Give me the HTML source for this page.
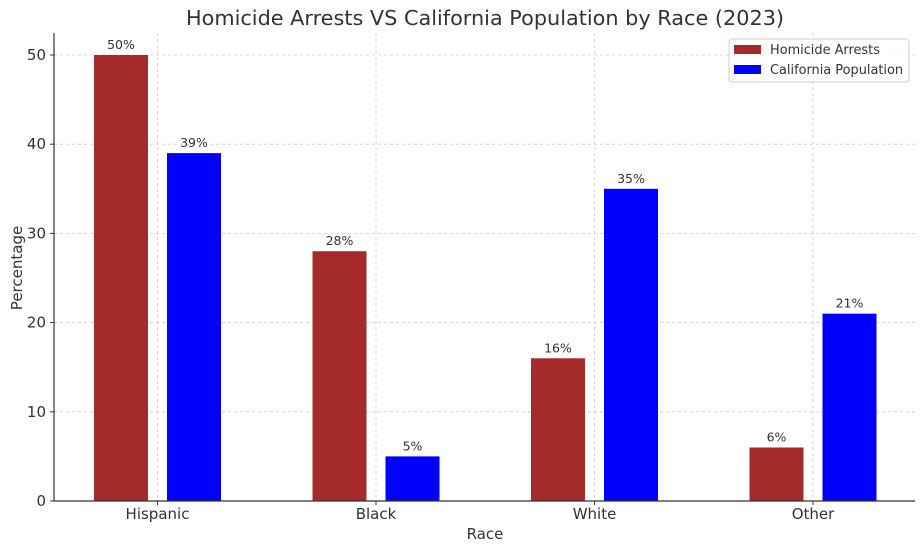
<!DOCTYPE html>
<html><head><meta charset="utf-8"><style>
body{margin:0;background:#fff;}
svg text{font-family:"DejaVu Sans","Liberation Sans",sans-serif;}
</style></head><body>
<svg id="chart" width="924" height="551" xmlns="http://www.w3.org/2000/svg">
<text x="485" y="25" font-size="20.8" fill="#333" text-anchor="middle">Homicide Arrests VS California Population by Race (2023)</text>
<g id="grid"></g><g id="bars"></g><g id="axes"></g>
<g>
<rect x="729" y="39" width="180" height="43" rx="3" fill="#fff" fill-opacity="0.8" stroke="#ccc"/>
<rect x="734" y="45" width="27" height="9" fill="#a52a2a"/>
<text x="770" y="54" font-size="12.9" fill="#333">Homicide Arrests</text>
<rect x="734" y="65" width="27" height="9" fill="#0000ff"/>
<text x="770" y="74" font-size="12.9" fill="#333">California Population</text>
</g>
<text x="485" y="539" font-size="15" fill="#333" text-anchor="middle">Race</text>
<text x="22" y="268" font-size="15" fill="#333" text-anchor="middle" transform="rotate(-90 22 268)">Percentage</text>
</svg>
<script>
const categories=["Hispanic","Black","White","Other"];
const arrests=[50,28,16,6];
const population=[39,5,35,21];
const yTicks=[0,10,20,30,40,50];
const NS="http://www.w3.org/2000/svg";
const x0=54,x1=915,yBase=501,yTop=33;
function y(v){return yBase-v*8.92;}
function xc(i){return 157.5+i*218.5;}
function mk(tag,attrs,parent,text){const e=document.createElementNS(NS,tag);for(const k in attrs)e.setAttribute(k,attrs[k]);if(text!==undefined)e.textContent=text;document.getElementById(parent).appendChild(e);return e;}
yTicks.forEach(t=>{
  const g=mk('line',{x1:x0,x2:x1,y1:y(t),y2:y(t),stroke:'#ccc','stroke-dasharray':'3,3','stroke-width':0.8},'grid');
  
  
  const tk=mk('line',{x1:x0-4,x2:x0,y1:y(t),y2:y(t),stroke:'#333'},'axes');
  
  
  const l=mk('text',{x:x0-8,y:y(t)+5,'font-size':15,fill:'#333','text-anchor':'end'},'axes',String(t));
  
  
});
categories.forEach((c,i)=>{
  const g=mk('line',{x1:xc(i),x2:xc(i),y1:yTop,y2:yBase,stroke:'#ccc','stroke-dasharray':'3,3','stroke-width':0.8},'grid');
  
  
  [[arrests[i],'#a52a2a',-36.5,'arrests'],[population[i],'#0000ff',36.5,'population']].forEach(([v,col,off,nm])=>{
    const cx=xc(i)+off;
    const r=mk('rect',{x:cx-27,y:y(v),width:54,height:yBase-y(v),fill:col},'bars');
    
    
    const t=mk('text',{x:cx,y:y(v)-6,'font-size':12.5,fill:'#333','text-anchor':'middle'},'bars',v+'%');
    
    
  });
  const tk=mk('line',{x1:xc(i),x2:xc(i),y1:yBase,y2:yBase+4,stroke:'#333'},'axes');
  
  
  const l=mk('text',{x:xc(i),y:yBase+18,'font-size':15,fill:'#333','text-anchor':'middle'},'axes',c);
  
  
});
const la=mk('line',{x1:x0,x2:x0,y1:yTop,y2:yBase,stroke:'#333','stroke-width':1.2},'axes');


const lb=mk('line',{x1:x0,x2:x1,y1:yBase,y2:yBase,stroke:'#333','stroke-width':1.2},'axes');


</script>
</body></html>
